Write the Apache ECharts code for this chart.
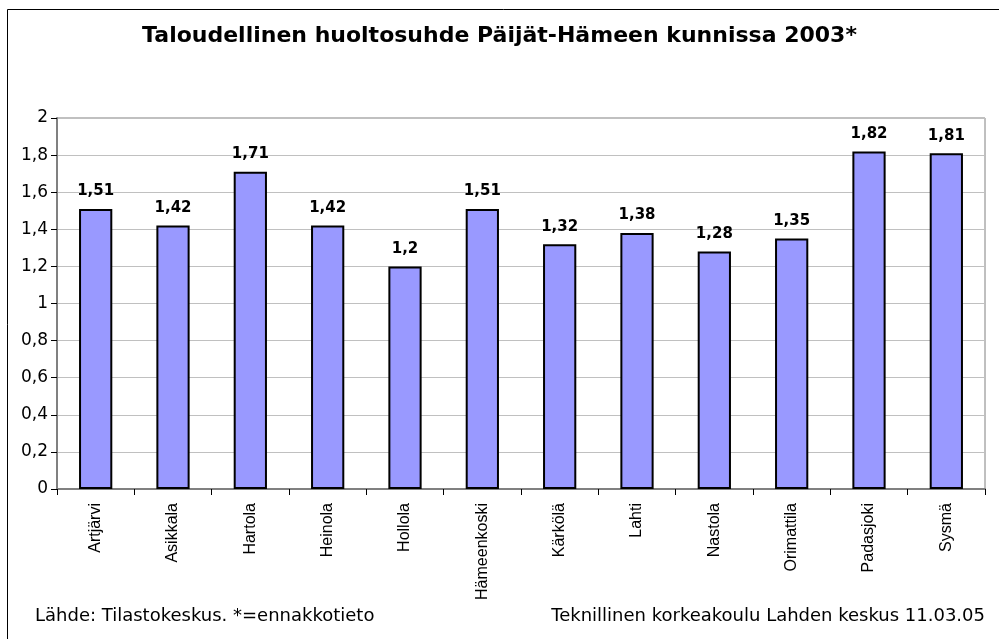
<!DOCTYPE html>
<html>
<head>
<meta charset="utf-8">
<script src="https://cdn.jsdelivr.net/npm/echarts@6/dist/echarts.min.js"></script>
<style>
  html, body { margin: 0; padding: 0; background: #fff; }
  #main { width: 999px; height: 639px; }
</style>
</head>
<body>
<div id="main"></div>
<script>
// kunnat
var kunnat = ['Artjärvi', 'Asikkala', 'Hartola', 'Heinola', 'Hollola', 'Hämeenkoski',
  'Kärkölä', 'Lahti', 'Nastola', 'Orimattila', 'Padasjoki', 'Sysmä'];
// huoltosuhde 2003
var arvot = [1.51, 1.42, 1.71, 1.42, 1.2, 1.51, 1.32, 1.38, 1.28, 1.35, 1.82, 1.81];

var otsikko = 'Taloudellinen huoltosuhde Päijät-Hämeen kunnissa 2003*';
var lahde = 'Lähde: Tilastokeskus. *=ennakkotieto';
var tekija = 'Teknillinen korkeakoulu Lahden keskus 11.03.05';

var leveä = '"DejaVu Sans", Verdana, sans-serif';
var kapea = 'Arial, "Liberation Sans", sans-serif';

// pilkku desimaalierottimeksi
function pilkku(v) {
  return String(v).replace('.', ',');
}

var chart = echarts.init(document.getElementById('main'));

var option = {
  backgroundColor: '#fff',
  animation: false,
  title: {
    text: otsikko,
    left: 'center',
    top: 20,
    textStyle: { fontFamily: leveä, fontSize: 22, fontWeight: 'bold', color: '#000' }
  },
  graphic: [
    {
      type: 'rect',
      shape: { x: 7.5, y: 9.5, width: 1000, height: 700 },
      style: { fill: 'none', stroke: '#000', lineWidth: 1 }
    },
    {
      type: 'text',
      left: 35,
      top: 607,
      style: { text: lahde, font: '18px ' + leveä, fill: '#000' }
    },
    {
      type: 'text',
      right: 14,
      top: 607,
      style: { text: tekija, font: '18px ' + leveä, fill: '#000' }
    }
  ],
  grid: {
    left: 57,
    right: 14,
    top: 118,
    bottom: 150,
    show: true,
    borderColor: '#808080',
    borderWidth: 1
  },
  xAxis: {
    type: 'category',
    data: kunnat,
    axisLine: { lineStyle: { color: '#808080', width: 2 } },
    axisTick: { show: true, length: 6, lineStyle: { color: '#000' } },
    axisLabel: {
      rotate: 90,
      margin: 14,
      fontFamily: kapea,
      fontSize: 16,
      color: '#000'
    }
  },
  yAxis: {
    type: 'value',
    min: 0,
    max: 2,
    interval: 0.2,
    axisLine: { show: true, lineStyle: { color: '#808080', width: 2 } },
    axisTick: { show: true, length: 6, lineStyle: { color: '#000' } },
    splitLine: { lineStyle: { color: '#c0c0c0', width: 1 } },
    axisLabel: {
      margin: 9,
      fontFamily: leveä,
      fontSize: 17,
      color: '#000',
      formatter: function (v) { return pilkku(Math.round(v * 10) / 10); }
    }
  },
  series: [{
    type: 'bar',
    data: arvot,
    barWidth: '43%',
    itemStyle: { color: '#9999ff', borderColor: '#000', borderWidth: 2 },
    label: {
      show: true,
      position: 'top',
      distance: 10,
      fontFamily: leveä,
      fontSize: 15,
      fontWeight: 'bold',
      color: '#000',
      formatter: function (p) { return pilkku(p.value); }
    }
  }]
};

chart.setOption(option);
</script>
</body>
</html>
